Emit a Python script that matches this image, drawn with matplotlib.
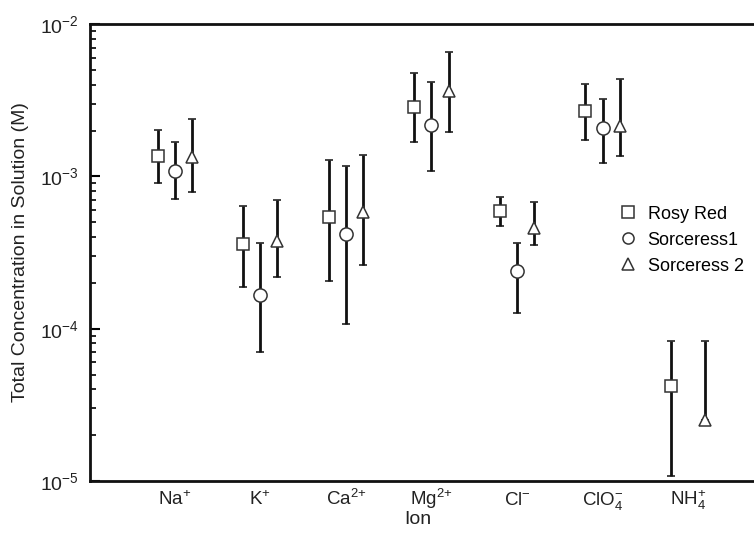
import numpy as np
import matplotlib
matplotlib.use("Agg")
import matplotlib.pyplot as plt
from matplotlib.lines import Line2D
from matplotlib.ticker import LogLocator, NullFormatter

plt.rcParams['font.family'] = ['Liberation Sans', 'DejaVu Sans']
plt.rcParams['mathtext.default'] = 'regular'

# ions on the x axis
ions = ["Na$^{+}$", "K$^{+}$", "Ca$^{2{+}}$", "Mg$^{2{+}}$", "Cl$^{-}$", "ClO$_4^{-}$", "NH$_4^{+}$"]

# Rosy Red: value, upper bound, lower bound
rosy = [1.37e-3, 3.57e-4, 5.43e-4, 2.86e-3, 5.95e-4, 2.68e-3, 4.22e-5]
rosy_hi = [2.01e-3, 6.41e-4, 1.28e-3, 4.74e-3, 7.31e-4, 4.04e-3, 8.33e-5]
rosy_lo = [9.08e-4, 1.87e-4, 2.06e-4, 1.67e-3, 4.72e-4, 1.73e-3, 1.08e-5]

# Sorceress1 (no NH4+ value)
sorc1 = [1.09e-3, 1.66e-4, 4.16e-4, 2.17e-3, 2.39e-4, 2.08e-3, np.nan]
sorc1_hi = [1.67e-3, 3.65e-4, 1.17e-3, 4.16e-3, 3.65e-4, 3.23e-3, np.nan]
sorc1_lo = [7.1e-4, 7.05e-5, 1.08e-4, 1.08e-3, 1.27e-4, 1.22e-3, np.nan]

# Sorceress 2
sorc2 = [1.35e-3, 3.78e-4, 5.8e-4, 3.65e-3, 4.56e-4, 2.14e-3, 2.51e-5]
sorc2_hi = [2.38e-3, 6.95e-4, 1.38e-3, 6.58e-3, 6.75e-4, 4.33e-3, 8.33e-5]
sorc2_lo = [7.85e-4, 2.17e-4, 2.62e-4, 1.97e-3, 3.54e-4, 1.37e-3, 2.51e-5]

series = [
    ("Rosy Red", "s", rosy, rosy_hi, rosy_lo, -0.2),
    ("Sorceress1", "o", sorc1, sorc1_hi, sorc1_lo, 0.0),
    ("Sorceress 2", "^", sorc2, sorc2_hi, sorc2_lo, 0.2),
]

fig = plt.figure(figsize=(7.54, 5.35), dpi=100)
ax = fig.add_axes([0.119, 0.101, 0.881, 0.854])

x = np.arange(len(ions))
handles = []
for name, mk, val, hi, lo, off in series:
    val = np.array(val)
    err = np.vstack([val - np.array(lo), np.array(hi) - val])
    ms = 9.5 if mk == "o" else 9
    ax.errorbar(x + off, val, yerr=err, fmt=mk, color="black", ecolor="#111111",
                elinewidth=2.0, capsize=3, capthick=2.0,
                markersize=ms, markerfacecolor="white",
                markeredgecolor="#333333", markeredgewidth=1.1, zorder=3)
    handles.append(Line2D([], [], linestyle="none", marker=mk, markersize=8,
                          markerfacecolor="white", markeredgecolor="#333333",
                          markeredgewidth=1.1, label=name))

ax.set_yscale("log")
ax.set_ylim(1e-5, 1e-2)
ax.set_xlim(-0.994, 6.77)
ax.set_xticks(x)
ax.set_xticklabels(ions, fontsize=13.5, color="#222222")
for lbl in ax.get_xticklabels():
    lbl.set_verticalalignment("baseline")
ax.tick_params(axis="x", length=0, pad=17)
ax.yaxis.set_major_locator(LogLocator(base=10, numticks=10))
ax.yaxis.set_minor_locator(LogLocator(base=10, subs=np.arange(2, 10), numticks=10))
ax.yaxis.set_minor_formatter(NullFormatter())
ax.tick_params(axis="y", which="major", direction="in", length=7, width=1.5, labelsize=14,
               labelcolor="#222222", pad=8)
ax.tick_params(axis="y", which="minor", direction="in", length=4, width=1.2)

ax.spines["right"].set_visible(False)
for s in ["left", "top", "bottom"]:
    ax.spines[s].set_linewidth(2.0)
    ax.spines[s].set_color("#111111")

ax.set_xlabel("Ion", fontsize=14, color="#222222")
ax.xaxis.set_label_coords(0.494, -0.065)
ax.set_ylabel("Total Concentration in Solution (M)", fontsize=14, color="#222222", labelpad=8)

ax.legend(handles=handles, loc="upper left", bbox_to_anchor=(0.772, 0.638), frameon=False,
          fontsize=13, handletextpad=0.6, labelspacing=0.5, handlelength=1.0)

fig.savefig("out.png", dpi=100)
